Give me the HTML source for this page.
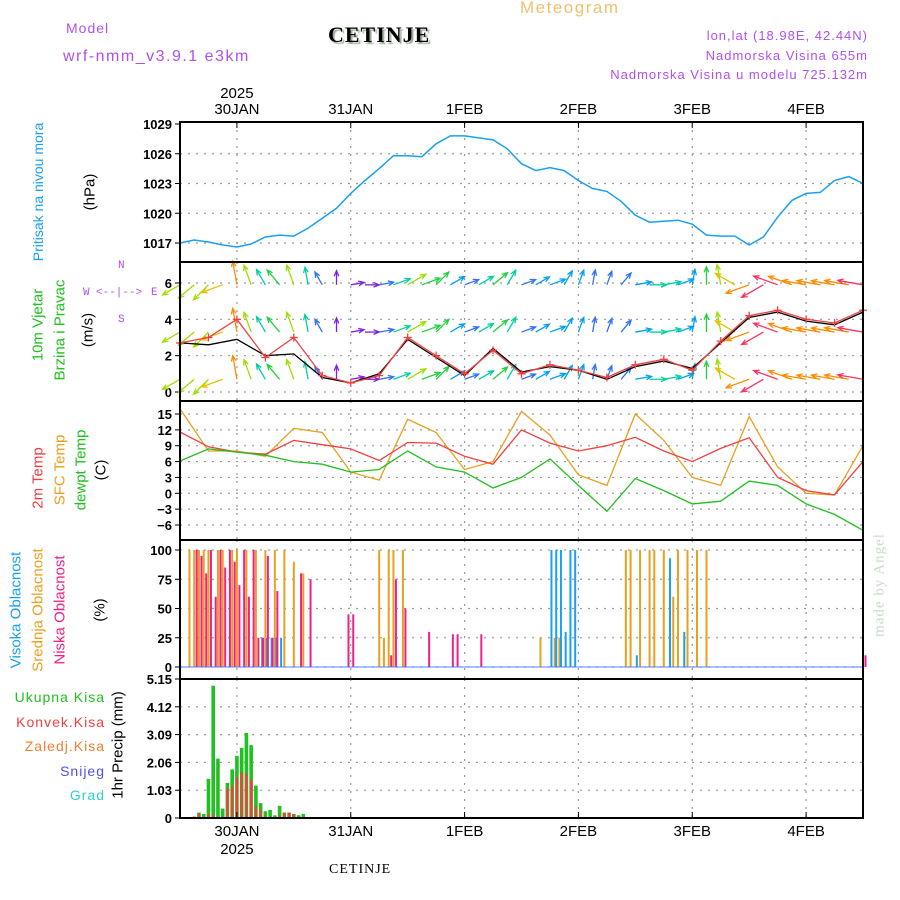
<!DOCTYPE html>
<html><head><meta charset="utf-8"><style>
body{margin:0;background:#fff;width:900px;height:900px;overflow:hidden}
svg{display:block}
text{font-family:"Liberation Sans",sans-serif}
</style></head><body>
<svg id="c" width="900" height="900" xmlns="http://www.w3.org/2000/svg"></svg>
<script>
// ---- data ----
const dayLabels=["30JAN","31JAN","1FEB","2FEB","3FEB","4FEB"];
const pressTicks=[1017,1020,1023,1026,1029];
const windTicks=[0,2,4,6];
const tempTicks=[-6,-3,0,3,6,9,12,15];
const cloudTicks=[0,25,50,75,100];
const precipTicks=[0,1.03,2.06,3.09,4.12,5.15];
// pressure every 3h from 29JAN 12Z
const pressure=[1017.0,1017.3,1017.1,1016.8,1016.6,1016.9,1017.6,1017.8,1017.7,1018.5,1019.5,1020.5,1022.0,1023.3,1024.5,1025.8,1025.8,1025.7,1027.0,1027.8,1027.8,1027.6,1027.4,1026.5,1025.0,1024.3,1024.6,1024.3,1023.3,1022.5,1022.2,1021.2,1019.8,1019.1,1019.2,1019.3,1018.9,1017.8,1017.7,1017.7,1016.8,1017.6,1019.6,1021.3,1022.0,1022.1,1023.3,1023.7,1023.0];
// temps every 6h
const temp2m=[11.6,8.8,7.8,7.4,10,9.2,8.4,6.2,9.6,9.5,7,5.5,12,9.5,8,9,10.6,8,6,8.5,10.5,3,0.5,-0.3,6];
const tempSfc=[16,8,8,7,12.3,11.5,4,2.5,14,11.5,4.5,6,15.5,11,3.5,1.5,15,10,3,1.5,14.5,5,0,-0.3,9];
const dewpt=[6.1,8.4,7.8,7.2,6,5.5,4,4.5,8,5,4,1,3,6.5,1.5,-3.4,2.8,0.5,-2,-1.5,2.3,1.5,-2,-4,-7];
// wind speed every 6h
const windSpeed=[2.7,3.0,4.0,1.9,3.0,0.9,0.5,0.9,3.0,2.0,1.0,2.3,1.0,1.5,1.2,0.8,1.5,1.8,1.2,2.8,4.2,4.5,4.0,3.8,4.5];
const windSpeedLine=[2.7,2.6,2.9,2.0,2.1,0.8,0.5,1.0,2.9,1.9,0.9,2.4,1.1,1.4,1.2,0.7,1.4,1.7,1.3,2.7,4.1,4.4,3.9,3.7,4.4];
// wind direction every 3h (degrees, 0=east, 90=north, arrow points toward)
const windDir=[210,220,225,200,100,110,120,130,110,100,120,90,10,0,10,20,30,20,45,30,20,30,40,60,20,30,20,60,70,80,70,50,10,0,10,20,80,90,100,150,200,210,160,160,170,170,170,170,170];
// clouds: [hour, %]
const cloudHigh=[[17,25],[18,25],[19,25],[20,25],[21,25],[78,100],[79,100],[80,100],[81,30],[82,100],[83,100],[96,10],[103,93],[106,30]];
const cloudMid=[[2,100],[3,100],[4,100],[5,100],[6,100],[8,100],[9,100],[11,100],[12,100],[14,100],[16,100],[18,100],[20,100],[22,100],[24,90],[26,80],[42,100],[43,25],[44,100],[45,100],[47,100],[76,25],[79,25],[80,25],[94,100],[95,100],[97,100],[99,100],[100,100],[102,100],[104,60],[105,100],[107,100],[109,100],[111,100]];
const cloudLow=[[3,100],[4,95],[5,80],[6,100],[7,60],[8,100],[9,85],[10,100],[11,90],[12,70],[13,100],[14,60],[15,100],[16,25],[17,25],[18,95],[19,25],[20,65],[25,80],[27,75],[35,45],[36,45],[44,10],[45,75],[47,50],[52,30],[57,28],[58,28],[63,28],[144,10]];
// precip every hour: [hour,total,convective]
const precipTotal=[[3,0.05],[4,0.2],[5,0.15],[6,1.45],[7,4.9],[8,2.2],[9,0.35],[10,1.3],[11,1.8],[12,2.3],[13,2.6],[14,3.15],[15,2.7],[16,1.2],[17,0.55],[18,0.25],[19,0.3],[20,0.1],[21,0.45],[22,0.2],[23,0.2],[24,0.15],[25,0.1],[26,0.15]];
const precipConv=[[3,0.05],[4,0.15],[6,0.15],[7,0.1],[10,1.1],[11,1.2],[12,1.5],[13,1.7],[14,1.65],[15,1.4],[16,0.45],[17,0.3],[19,0.05],[21,0.1],[22,0.2],[23,0.2],[24,0.15]];

// ---- drawing ----
const S=document.getElementById('c'),NS='http://www.w3.org/2000/svg';
function el(tag,a,parent){const e=document.createElementNS(NS,tag);for(const k in a)e.setAttribute(k,a[k]);(parent||S).appendChild(e);return e;}
function txt(x,y,s,a){const e=el('text',Object.assign({x:x,y:y},a||{}));e.textContent=s;return e;}
const X0=180,X1=863,HR=(X1-X0)/144;
const xT=h=>X0+h*HR;
const panels=[{t:122,b:262},{t:262,b:401},{t:401,b:540},{t:540,b:679},{t:679,b:818}];
function yScale(y0px,v0,y1px,v1){return v=>y0px+(v-v0)*(y1px-y0px)/(v1-v0);}
const yP=yScale(243,1017,124,1029), yW=yScale(392,0,283,6), yTm=yScale(525,-6,414,15), yC=yScale(667,0,550,100), yR=yScale(818,0,679,5.15);

function grid(p,ticks,ys,fmt,name){
  ticks.forEach(v=>{const y=ys(v);
    if(y>p.t+3&&y<p.b-3){const g=el('line',{x1:X0,x2:X1,y1:y,y2:y,stroke:'#999','stroke-dasharray':'2,6','stroke-width':1.2});}
    el('line',{x1:X0-5,x2:X0,y1:y,y2:y,stroke:'#000'});
    const t=txt(X0-8,y+5,fmt(v),{'text-anchor':'end','font-size':13,'font-weight':'bold'});
    
  });
  for(let d=0;d<6;d++){const x=xT(12+24*d);
    const g=el('line',{x1:x,x2:x,y1:p.t,y2:p.b,stroke:'#999','stroke-dasharray':'2,6','stroke-width':1.2});
    }
}
grid(panels[0],pressTicks,yP,v=>v,'pressure');
grid(panels[1],windTicks,yW,v=>v,'wind');
grid(panels[2],tempTicks,yTm,v=>v<0?'\u2212'+(-v):v,'temp');
grid(panels[3],cloudTicks,yC,v=>v,'cloud');
grid(panels[4],precipTicks,yR,v=>v,'precip');

function line(arr,step,ys,color,name,w){
  const pts=arr.map((v,i)=>xT(i*step).toFixed(1)+','+ys(v).toFixed(1)).join(' ');
  const p=el('polyline',{points:pts,fill:'none',stroke:color,'stroke-width':w||1.3});
  return p;
}
line(pressure,3,yP,'#1aa0f0','pressure-line',1.5);

// wind arrows, colored by speed
function speedColor(s){
  if(s<0.8)return '#8020e0';if(s<1.2)return '#3070ff';if(s<1.6)return '#00a0f0';if(s<2.0)return '#00d0a0';
  if(s<2.6)return '#20d040';if(s<3.2)return '#9be000';if(s<3.8)return '#e8c000';if(s<4.3)return '#ff8c00';return '#ff3060';}
const rows=[yW(5.9),yW(3.3),yW(0.7)];
windDir.forEach((d,i)=>{
  const x=xT(i*3),r=d*Math.PI/180;
  const a=windSpeed[Math.floor(i/2)],b=windSpeed[Math.min(24,Math.ceil(i/2))];
  const spd=(a+b)/2;
  const col=speedColor(spd);
  rows.forEach(y=>{
    const L=12+spd*3;const x2=x+L*Math.cos(r),y2=y-L*Math.sin(r);
    const g=el('g',{stroke:col,'stroke-width':1.3,fill:'none'});
    
    el('line',{x1:x,y1:y,x2:x2,y2:y2},g);
    const a1=r+Math.PI-0.4,a2=r+Math.PI+0.4;
    el('polyline',{points:`${x2+6*Math.cos(a1)},${y2-6*Math.sin(a1)} ${x2},${y2} ${x2+6*Math.cos(a2)},${y2-6*Math.sin(a2)}`},g);
  });
});
line(windSpeedLine,6,yW,'#000','wind-speed-line',1.3);
line(windSpeed,6,yW,'#f04040','wind-speed-10m-line',1.3);
windSpeed.forEach((v,i)=>{const x=xT(i*6),y=yW(v);
  const g=el('path',{d:`M${x-4},${y}H${x+4}M${x},${y-4}V${y+4}`,stroke:'#f04040','stroke-width':1.3});
  });

// temps
line(tempSfc,6,yTm,'#e8a020','sfc-temp-line');
line(temp2m,6,yTm,'#f04040','temp-2m-line');
line(dewpt,6,yTm,'#20c020','dewpoint-line');

// clouds
function cbars(arr,col,off,name){arr.forEach(([h,v])=>{const x=xT(h)+off;
  const b=el('line',{x1:x,x2:x,y1:yC(0),y2:yC(v),stroke:col,'stroke-width':2});
  });}
cbars(cloudMid,'#e8a020',0,'cloud-mid-bar');
cbars(cloudHigh,'#1aa0f0',1.5,'cloud-high-bar');
cbars(cloudLow,'#f0208a',2.5,'cloud-low-bar');
el('line',{x1:X0,x2:X1,y1:yC(0),y2:yC(0),stroke:'#5080ff','stroke-width':1});

// precip
precipTotal.forEach(([h,v])=>{const x=xT(h);
  const b=el('rect',{x:x-1.8,y:yR(v),width:3.6,height:yR(0)-yR(v),fill:'#20c020'});
  });
precipConv.forEach(([h,v])=>{const x=xT(h);
  const b=el('rect',{x:x-1.2,y:yR(v),width:2.4,height:yR(0)-yR(v),fill:'#f04040'});
  });

// frames
panels.forEach((p,i)=>{const r=el('rect',{x:X0,y:p.t,width:X1-X0,height:p.b-p.t,fill:'none',stroke:'#000','stroke-width':2});
  });

// day labels
dayLabels.forEach((s,d)=>{const x=xT(12+24*d);
  let t=txt(x,114,s,{'text-anchor':'middle','font-size':15});
  t=txt(x,836,s,{'text-anchor':'middle','font-size':15});
  el('line',{x1:x,x2:x,y1:122,y2:128,stroke:'#000'});el('line',{x1:x,x2:x,y1:812,y2:818,stroke:'#000'});
});
txt(xT(12),98,'2025',{'text-anchor':'middle','font-size':15});
txt(xT(12),854,'2025',{'text-anchor':'middle','font-size':15});
</script>
<div style="position:absolute;left:0;top:0;width:900px;height:900px;pointer-events:none;font-family:'Liberation Sans',sans-serif">
<div style="position:absolute;left:520px;top:-2px;font-size:17px;color:#f0c070;letter-spacing:1.5px">Meteogram</div>
<div style="position:absolute;left:66px;top:20px;font-size:14px;color:#b050f0;letter-spacing:1px">Model</div>
<div style="position:absolute;left:63px;top:48px;font-size:16px;color:#b050f0;letter-spacing:1.5px">wrf-nmm_v3.9.1 e3km</div>
<div style="position:absolute;left:328px;top:22px;font-family:'Liberation Serif',serif;font-weight:bold;font-size:22px;letter-spacing:1px;text-shadow:2px 2px 1px #9a9">CETINJE</div>
<div style="position:absolute;right:32px;top:26px;font-size:13px;color:#b050f0;text-align:right;line-height:19.5px;letter-spacing:1px">lon,lat (18.98E, 42.44N)<br>Nadmorska Visina 655m<br>Nadmorska Visina u modelu 725.132m</div>
<div style="position:absolute;left:329px;top:862px;font-family:'Liberation Serif',serif;font-size:14px;letter-spacing:1px">CETINJE</div>
<div style="position:absolute;left:38px;top:192px;transform:translate(-50%,-50%) rotate(-90deg);white-space:nowrap;font-size:14px">
 <span style="color:#1aa0f0">Pritisak na nivou mora</span></div>
<div style="position:absolute;left:90px;top:192px;transform:translate(-50%,-50%) rotate(-90deg);font-size:15px">(hPa)</div>
<div style="position:absolute;left:38px;top:325px;transform:translate(-50%,-50%) rotate(-90deg);white-space:nowrap;font-size:15px;color:#20c020">10m Vjetar</div>
<div style="position:absolute;left:60px;top:330px;transform:translate(-50%,-50%) rotate(-90deg);white-space:nowrap;font-size:15px;color:#20c020">Brzina i Pravac</div>
<div style="position:absolute;left:88px;top:330px;transform:translate(-50%,-50%) rotate(-90deg);font-size:15px">(m/s)</div>
<div style="position:absolute;left:80px;top:260px;width:80px;height:66px;color:#b050f0;font-size:11px;font-family:'Liberation Mono',monospace">
 <span style="position:absolute;left:38px;top:0">N</span><span style="position:absolute;left:3px;top:27px">W</span><span style="position:absolute;left:71px;top:27px">E</span><span style="position:absolute;left:38px;top:54px">S</span>
 <span style="position:absolute;left:16px;top:27px">&lt;--|--&gt;</span></div>
<div style="position:absolute;left:38px;top:478px;transform:translate(-50%,-50%) rotate(-90deg);white-space:nowrap;font-size:15px;color:#f04040">2m Temp</div>
<div style="position:absolute;left:60px;top:470px;transform:translate(-50%,-50%) rotate(-90deg);white-space:nowrap;font-size:15px;color:#e8a020">SFC Temp</div>
<div style="position:absolute;left:81px;top:470px;transform:translate(-50%,-50%) rotate(-90deg);white-space:nowrap;font-size:15px;color:#20c020">dewpt Temp</div>
<div style="position:absolute;left:101px;top:470px;transform:translate(-50%,-50%) rotate(-90deg);font-size:15px">(C)</div>
<div style="position:absolute;left:16px;top:610px;transform:translate(-50%,-50%) rotate(-90deg);white-space:nowrap;font-size:15px;color:#1aa0f0">Visoka Oblacnost</div>
<div style="position:absolute;left:38px;top:610px;transform:translate(-50%,-50%) rotate(-90deg);white-space:nowrap;font-size:15px;color:#e8a020">Srednja Oblacnost</div>
<div style="position:absolute;left:60px;top:610px;transform:translate(-50%,-50%) rotate(-90deg);white-space:nowrap;font-size:15px;color:#f0208a">Niska Oblacnost</div>
<div style="position:absolute;left:100px;top:610px;transform:translate(-50%,-50%) rotate(-90deg);font-size:15px">(%)</div>
<div style="position:absolute;left:118px;top:745px;transform:translate(-50%,-50%) rotate(-90deg);white-space:nowrap;font-size:15px">1hr Precip (mm)</div>
<div style="position:absolute;right:795px;top:685px;text-align:right;font-size:14px;line-height:24.5px;letter-spacing:1px">
 <div style="color:#20c020">Ukupna Kisa</div><div style="color:#f04040">Konvek.Kisa</div><div style="color:#f08030">Zaledj.Kisa</div><div style="color:#5050f0">Snijeg</div><div style="color:#30d0d0">Grad</div></div>
<div style="position:absolute;left:880px;top:585px;transform:translate(-50%,-50%) rotate(-90deg);white-space:nowrap;font-family:'Liberation Serif',serif;font-size:15px;color:#c8dcc8;letter-spacing:1px">made by Angel</div>
</div>
</body></html>
